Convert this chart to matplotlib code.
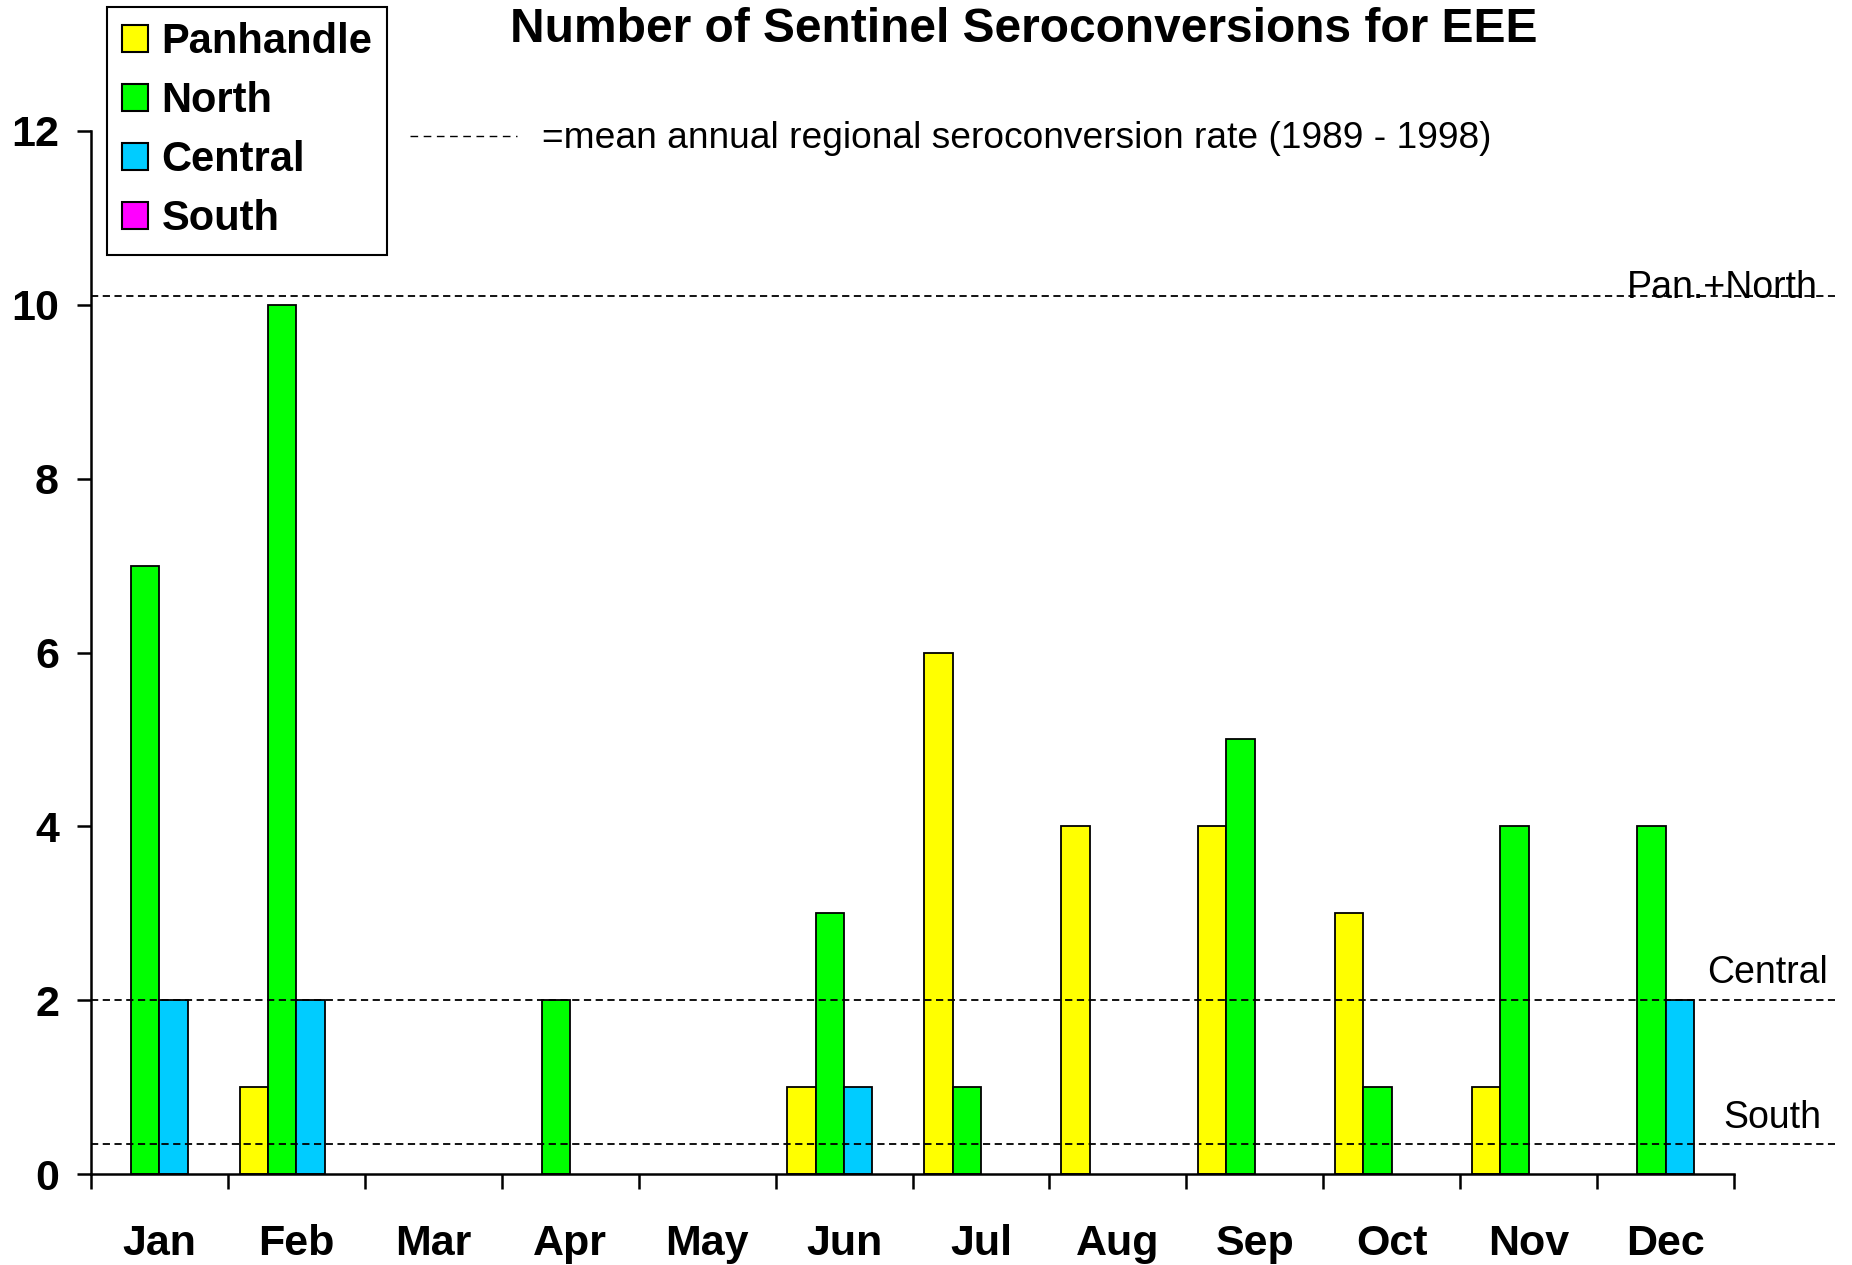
import numpy as np
import matplotlib.pyplot as plt
from matplotlib.lines import Line2D
from matplotlib.patches import Patch

plt.rcParams["font.family"] = ["Liberation Sans", "DejaVu Sans"]

months = ["Jan", "Feb", "Mar", "Apr", "May", "Jun",
          "Jul", "Aug", "Sep", "Oct", "Nov", "Dec"]
regions = ["Panhandle", "North", "Central", "South"]
panhandle = [0, 1, 0, 0, 0, 1, 6, 4, 4, 3, 1, 0]
north = [7, 10, 0, 2, 0, 3, 1, 0, 5, 1, 4, 4]
central = [2, 2, 0, 0, 0, 1, 0, 0, 0, 0, 0, 2]
south = [0, 0, 0, 0, 0, 0, 0, 0, 0, 0, 0, 0]
colors = ["#FFFF00", "#00FF00", "#00CCFF", "#FF00FF"]

# mean annual regional seroconversion rate (1989 - 1998)
mean_labels = ["Pan.+North", "Central", "South"]
mean_values = [10.1, 2.0, 0.35]

W, H = 1852, 1265
fig = plt.figure(figsize=(W / 100, H / 100), dpi=100)
ax = fig.add_axes([91 / W, 1 - 1174 / H, (1734 - 91) / W, (1174 - 131) / H])

x = np.arange(len(months))
w = 0.207
series = [panhandle, north, central, south]
for i, (vals, col, name) in enumerate(zip(series, colors, regions)):
    b = ax.bar(x + (i - 1.5) * w, vals, w, color=col, edgecolor="black",
               linewidth=1.3, label=name, zorder=2)
    for p in b.patches:
        if p.get_height() == 0:
            p.set_visible(False)

ax.set_xlim(-0.5, 11.5)
ax.set_ylim(0, 12)

# dashed mean lines, running past the end of the axis
x_end = -0.5 + (1835 - 91) / ((1734 - 91) / 12)
label_shift = [(-17, -2), (-7, 17), (-14, 16)]  # pixel offsets of labels
for val, lab, (dx, dy) in zip(mean_values, mean_labels, label_shift):
    ax.plot([-0.5, x_end], [val, val], color="black", linestyle=(0, (4, 2.5)),
            linewidth=1.3, clip_on=False, zorder=3)
    ax.annotate(lab, xy=(x_end, val), xycoords="data",
                xytext=(dx, dy), textcoords="offset pixels",
                ha="right", va="baseline", fontsize=27, zorder=4,
                annotation_clip=False)

for s in ["top", "right"]:
    ax.spines[s].set_visible(False)
for s in ["left", "bottom"]:
    ax.spines[s].set_linewidth(1.8)

ax.set_yticks(range(0, 13, 2))
ax.tick_params(axis="y", direction="out", length=10, width=1.8, pad=13,
               labelsize=31)
for t in ax.get_yticklabels():
    t.set_fontweight("bold")

ax.set_xticks(np.arange(-0.5, 12, 1))
ax.set_xticklabels([])
ax.set_xticks(x, minor=True)
ax.set_xticklabels(months, minor=True, fontsize=31, fontweight="bold")
ax.tick_params(axis="x", which="major", direction="out", length=11, width=1.8)
ax.tick_params(axis="x", which="minor", length=0, pad=36)

fig.text(1024 / W, 1 - 30 / H, "Number of Sentinel Seroconversions for EEE",
         ha="center", va="center", fontsize=34.5, fontweight="bold")

fig.add_artist(Line2D([410 / W, 517 / W], [1 - 136 / H, 1 - 136 / H],
                      color="black", linestyle=(0, (5.5, 4)), linewidth=1.0))
fig.text(542 / W, 1 - 138 / H,
         "=mean annual regional seroconversion rate (1989 - 1998)",
         ha="left", va="center", fontsize=26.7)

handles = [Patch(facecolor=c, edgecolor="black", linewidth=1.5) for c in colors]
leg = ax.legend(handles=handles, labels=regions, loc="upper left",
                bbox_to_anchor=(107 / W, 1 - 7 / H),
                bbox_transform=fig.transFigure, frameon=True, fancybox=False,
                edgecolor="black", framealpha=1, borderaxespad=0,
                prop={"size": 30, "weight": "bold"}, handlelength=0.62,
                handleheight=0.62, handletextpad=0.33, labelspacing=0.46,
                borderpad=0.36)
leg.get_frame().set_linewidth(1.5)

fig.savefig("out.png", dpi=100)
